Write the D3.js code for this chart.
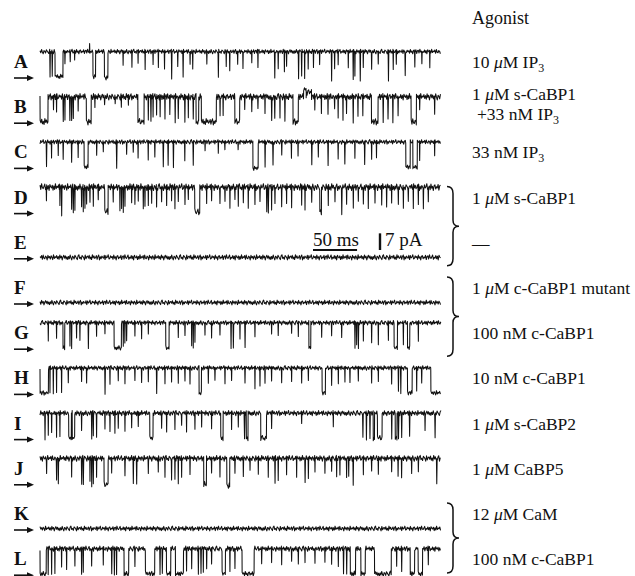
<!DOCTYPE html>
<html lang="en">
<head>
    <meta charset="UTF-8"/>
    <title>Single-channel records</title>
    <script src="https://d3js.org/d3.v7.min.js"></script>
    <style>
        body { margin: 0; background: #fff; }
        text { font-family: "Liberation Serif", "DejaVu Serif", serif; fill: #111; }
    </style>
</head>
<body>
<script>
    var w = 635;
    var h = 576;

    // record letters and the agonist on each one
    var rows = ["A", "B", "C", "D", "E", "F", "G", "H", "I", "J", "K", "L"];
    var agonists = [
        ["10 μM IP_3"],
        ["1 μM s-CaBP1", "+33 nM IP_3"],
        ["33 nM IP_3"],
        ["1 μM s-CaBP1"],
        ["—"],
        ["1 μM c-CaBP1 mutant"],
        ["100 nM c-CaBP1"],
        ["10 nM c-CaBP1"],
        ["1 μM s-CaBP2"],
        ["1 μM CaBP5"],
        ["12 μM CaM"],
        ["100 nM c-CaBP1"]
    ];
    // rows joined by a brace
    var braces = [["D", "E"], ["F", "G"], ["K", "L"]];

    var recordMs = 455;      // length of each record
    var openPA = 10.5;       // open channel current
    // level the record rests at (pA): open for active channels, 0 = closed
    var baseLevel = [10.5, 10.5, 10.5, 10.5, 0, 0, 10.5, 10.5, 10.5, 10.5, 0, 10.5];
    // baseline noise of each record (pA)
    var noiseAmp = [1.05, 1.5, 1.05, 1.6, 1.2, 1.1, 1.05, 1.05, 1.2, 1.35, 1.1, 1.2];

    // closing events: [start ms, duration ms, level pA]
    var eventsA = [[11,.8],[13.5,.8],[17,9],[28,.6,5],[34,.6,6],[39,.6,7],[56,.6,13.5],[60,3],[73,4,-.5],[94,.6,5],[104,.6,4],[111,.6,6],[119,.6,3],[128,.6,5],[134,.6,4],[141,.6,3],[149,.8,-1],[156,.6,4],[162,.8,0],[170,.6,5],[173,.6,3],[189,.6,5],[202,.8,-.5],[211,.6,4],[215,.6,2],[224,.6,5],[230,.6,3],[240,.6,6],[247,.6,4],[266,.8,-1],[270,.6,3],[277,.6,2],[279.5,.6,4],[293,.8,-1],[296.5,.8],[300,.6,-1],[304,.6,3],[310,.6,4],[317,.6,5],[330.5,.8,-1.5],[334,.6,3],[338,.6,5],[349.5,.6,4],[355,.8,-1],[357,.6],[363,.8,-1.5],[366.5,.6,4],[376,.6,3],[383.5,.6,5],[395,.8,-2],[400.5,.6,3],[404,.6,5],[414,.8],[425,.6,4],[433,.6,5],[442,.6,4]];
    var eventsB = [[0,9,0],[15,.6,5],[18.5,.6,4],[26,.8,0],[28,.6,1],[33.5,.8,0],[35.5,.8,0],[37.5,.6,1],[43,.6,5],[52.5,5.5,0],[62,.6,6],[73,.6,7],[85,.6,7],[92,.6,6],[100,.6,7],[111,7,0],[122.5,.8,1],[125.5,.8,0],[128,.6,2],[132,.6,3],[136,.6,2],[141.5,.6,1],[147,.6,3],[153,.8,0],[156.5,.8,1],[164,.8,0],[168,.6,2],[173.5,.8,1],[177,3,0],[183,17,0],[204,.6,2],[207.5,.6,3],[221,5.5,0],[232,.6,5],[240,.6,4],[247,.6,5],[255,.6,4],[262.5,.8,0],[266,.8,1],[272,.6,2],[277.5,.8,0],[287,6,0],[299,3,13.5],[302,6,12.5],[311.5,.6,5],[319,.6,4],[326.5,.6,3],[334,.6,5],[338,.6,2],[343.5,.6,1],[347.5,.6,3],[355,.8,0],[360.5,.6,2],[366,.6,3],[376,7.5,0],[389,.8,0],[394.5,.8,1],[400,.8,0],[406,.6,2],[421,6,0],[430.5,.6,5],[447.5,.6,3]];
    var eventsC = [[7,.8,0],[12.8,.6,4],[20.4,.6,5],[26,.6,3],[35.5,.8,2],[43,.6,4],[50,4.5,0],[64,.6,5],[71.5,.6,6],[86.5,1,-.5],[98,.6,5],[105.5,.6,6],[111,.6,4],[122.5,.6,3],[130,.6,4],[139.5,.8,0],[145,.8,1],[151,.8,0],[164,.6,3],[173.5,.8,1],[187,.6,7],[202,.6,6],[209.5,.6,7],[224.5,.6,7],[241.5,6,-.5],[255,.8,0],[264,.8,.5],[274,.6,5],[285,.6,4],[292.5,.6,5],[308,.8,1],[315.5,.6,4],[326.5,.8,1],[338,.6,3],[345.5,.8,1],[357,.6,4],[368,.8,1],[376,.6,3],[381.5,.6,4],[415,5,0],[423,5,0],[430.5,.6,3],[447.5,.6,5]];
    var eventsD = [[7,.6,5],[22.3,.6,3],[24.2,.8,-1],[35.6,.6,1],[37.4,.8,-.5],[39.3,.6,1],[46.9,.6,2],[48.8,.6,0],[50.7,.6,1],[52.6,.6,3],[56.4,.6,4],[60.2,.6,3],[65.8,.6,5],[73.4,3.8,0],[82.8,.6,4],[90.4,.6,0],[92.3,.6,1],[94.2,.6,-.5],[96.1,.6,2],[103.7,.6,4],[107.4,.6,3],[111.2,.6,5],[116.9,.6,1],[118.8,.6,2],[122.6,.6,3],[126.4,.6,4],[132,.6,2],[137.7,.6,4],[143.4,.6,3],[149,.6,5],[152.8,.6,2],[156.6,.6,4],[164.2,.6,3],[168,.6,5],[175.5,5.7,0],[188.8,.6,4],[194.4,.6,5],[203.9,.6,3],[209.6,.6,4],[215.2,.6,2],[220.9,.6,5],[224.7,.6,3],[230.4,.6,4],[236,.6,2],[243.6,.6,3],[249.3,.6,4],[256.9,.8,0],[258.7,.8,-.5],[262.5,.6,1],[266.3,.6,3],[273.9,.6,2],[279.5,.6,4],[285.2,.6,2],[296.6,.6,3],[300.4,.6,1],[308,.6,4],[317.4,1.9,-.5],[326.8,.6,3],[334.4,.6,4],[342,.8,-1.5],[347.6,.6,3],[355.2,.6,2],[360.9,.6,4],[366.6,.6,3],[372.2,.6,2],[379.8,.6,4],[387.4,.6,3],[393,.6,2],[398.7,.6,4],[406.3,.6,3],[412,.6,1],[417.6,.6,4],[423.3,.6,2],[429,.6,3],[434.7,.6,1],[440.3,.6,4]];
    var eventsE = [];
    var eventsF = [];
    var eventsG = [[9.1,.6,3],[18.5,.6,4],[26,2,0],[33.7,.6,1],[35.6,.6,0],[41.2,.6,4],[45,.6,3],[54.5,.8,-.5],[63.9,.6,5],[73.4,.6,6],[84,8.3,0],[94.2,.6,1],[96,.6,2],[98,.6,3],[107.4,.6,5],[115,.6,4],[122.6,.6,6],[142.6,3.8,0],[156.6,.6,4],[164.2,.6,5],[171.8,.6,1],[173.6,.6,0],[175.5,.6,2],[186.9,.6,5],[194.4,.6,4],[203.9,.6,5],[216.4,.8,0],[219,.8,-.5],[226.6,.6,4],[232.3,.8,0],[243.6,.6,5],[262.5,.6,6],[270,.6,5],[285.2,.6,6],[292.8,.6,5],[305,2.2,0],[319.3,.6,4],[330.6,.6,5],[342,.6,4],[357,.8,0],[359,.6,1],[360.9,.8,-.5],[366.6,.6,3],[376,.6,2],[383.6,.6,1],[395,.6,3],[401.7,3.8,0],[412,.6,1],[416.9,2.6,0],[429,.6,3]];
    var eventsH = [[0,9.5,0],[11,.6,0],[14.8,.6,-.5],[18.5,.6,0],[24.2,.6,0],[31.8,.6,4],[46.9,.6,5],[52.6,.6,4],[73.4,.8,-.5],[79.1,.6,4],[88.5,.6,5],[96.1,.6,4],[107.4,.6,5],[115,.6,4],[122.6,.6,5],[132,.8,-.5],[141.5,.6,4],[149,.6,5],[156.6,.6,4],[164.2,.6,5],[169.9,.6,4],[180.4,2.7,0],[190.7,.6,4],[198.2,.6,5],[209.6,.6,4],[217.1,.6,5],[232.3,.6,4],[243.6,.6,2],[249.3,.6,3],[255,.6,4],[262.5,.6,5],[273.9,.6,4],[285.2,.6,5],[296.6,.6,4],[304.2,.6,5],[320,3.8,0],[330.6,.6,3],[338.2,.6,4],[345.7,.6,5],[351.4,.6,4],[360.9,.6,5],[376,.6,4],[383.6,.6,5],[398.7,.6,4],[406.3,.8,1],[409,.8,0],[416.9,5.3,0],[427.1,.6,1],[432.8,.6,4],[443.4,12,0]];
    var eventsI = [[5.3,.8,-.5],[9.1,.6,1],[12.9,.6,2],[18.5,.6,0],[22.3,.6,1],[32.5,3,0],[36.5,2.8,0],[46.9,.6,3],[58.3,.8,0],[60.2,.6,1],[63.9,.6,0],[73.4,.6,4],[79.1,.6,3],[84.7,.6,2],[88.5,.6,4],[96.1,.6,3],[103.7,.6,4],[111.2,.6,5],[124.5,3.7,0],[137.7,.6,4],[143.4,.6,3],[152.8,.6,4],[160.4,.6,5],[166,.6,3],[175.5,.6,4],[183.1,.6,5],[194.4,.6,4],[205,2.7,0],[217.1,.6,4],[224.7,.6,5],[231.5,1.2,0],[234,2,0],[250.4,6.5,0],[262.5,.6,4],[296.6,.6,6],[332.5,.6,5],[366,.8,0],[370,.8,-.5],[374,.8,0],[378,1.5,0],[382.8,5.3,0],[398.7,.8,0],[403,2,0],[406.3,1,0],[410,.8,0],[419,.8,1],[436.6,.6,3],[447.9,.8,0]];
    var eventsJ = [[7.2,.6,4],[18.5,.6,1],[20.4,.8,-.5],[35.6,.6,3],[46.9,.8,0],[48.8,.8,-.5],[56.4,.6,1],[58.3,.8,-1],[60.2,.6,0],[63.9,.6,3],[72.6,4.6,-.5],[81,.6,4],[96.1,.6,3],[105.5,.8,0],[109.3,.8,-.5],[122.6,.6,4],[133.9,.6,5],[141.5,.6,3],[149,.6,1],[152.8,.6,2],[156.6,.6,0],[160.4,.6,3],[169.9,.6,4],[185.7,3.1,-.5],[194.4,.6,4],[203.9,.6,3],[211.9,3.3,-1],[220.9,.6,4],[230.4,.6,3],[238,.6,5],[247.4,.6,4],[258.7,.6,3],[266.3,.8,0],[270,.6,1],[279.5,.6,4],[290.9,.6,3],[300.4,.8,0],[304.2,.6,2],[311.7,.6,5],[323,.6,4],[330.6,.6,5],[336.3,.6,3],[340,.6,4],[347.6,.6,2],[350,.6,3],[355,.8,-.5],[366.6,.6,4],[376,.6,5],[383.6,.6,4],[398.7,.6,5],[406,.6,3],[410,.6,2],[421.4,.6,4],[429,.6,5],[449.8,.8,-.5]];
    var eventsK = [];
    var eventsL = [[0,7,0],[9,.6,0],[12.9,.6,-.5],[16.6,.6,0],[24.2,.6,3],[29.9,.6,2],[39.3,.6,3],[46.9,.6,0],[48.8,.6,1],[58.3,.6,3],[71.5,.6,4],[81,.8,0],[84,.8,-.5],[86.6,.6,0],[95.3,5.3,0],[107.4,.6,3],[119.5,10.6,0],[135.8,.8,0],[138.4,.8,0],[143.4,4.9,0],[153.6,9.1,0],[166,.6,1],[171.8,.6,2],[179.3,.8,0],[182.3,.8,0],[185,.6,1],[188.8,.6,2],[194.4,.6,4],[206.5,3.8,0],[215.2,.6,1],[220.9,.6,2],[229.2,13.7,0],[251.2,.6,4],[262.5,.6,5],[273.9,.6,4],[285.2,.6,5],[292.8,.6,4],[300.4,.6,5],[311.7,.6,4],[323,.6,5],[330.6,.6,4],[338.2,.6,3],[344,.8,0],[347.6,.8,0],[352,6,0],[364,5,0],[379.5,19,0],[404.4,.6,3],[410,.8,1],[420,5,0],[429,5,0],[440.3,.6,4]];
    var events = [eventsA, eventsB, eventsC, eventsD, eventsE, eventsF, eventsG, eventsH, eventsI, eventsJ, eventsK, eventsL];

    // hand-typed baseline noise texture (units of the noise amplitude)
    var noisePattern = [0.3,-0.5,0.8,-0.2,-0.9,0.4,0.1,-0.6,0.7,0.2,-0.3,-0.8,0.5,0.9,-0.4,0.0,-0.7,0.6,0.3,-0.1,-0.9,0.8,-0.5,0.2,0.4,-0.3,0.7,-0.6,0.1,-0.8,0.9,-0.2,0.5,-0.4,-0.1,0.6,-0.7,0.3,0.8,-0.9,0.2,-0.5,0.4,0.0,-0.3,0.7,-0.8,0.6,-0.2,0.1,0.9,-0.6,-0.4,0.5,-0.1,0.3,-0.7,0.8,-0.3,0.2,-0.9,0.4,0.6,-0.5,0.1,-0.2,0.7,-0.8,0.3,0.5,-0.6,0.9,-0.1,-0.4,0.2,0.8,-0.7,0.0,-0.3,0.6,-0.5,0.4,-0.9,0.7,0.1,-0.2,0.5,-0.8,0.3,-0.6,0.9,-0.4,0.2,-0.1,0.6,-0.7,0.8,-0.3,-0.5,0.4,0.1,-0.9,0.7,-0.2,0.3,-0.6,0.5,0.0,-0.8,0.9,-0.4,0.2,-0.1,0.6,-0.5,0.3,-0.7,0.8,-0.2,0.4,-0.9,0.1,0.7,-0.3,0.5,-0.6,0.2,-0.8];

    // layout
    var x0 = 40, x1 = 441;
    var firstArrow = 78, rowGap = 45.2;
    var pxPerPA = 2.38;
    var labelX = 472;

    var svg = d3.select("body")
                .append("svg")
                .attr("width", w)
                .attr("height", h);

    var xScale = d3.scaleLinear()
        .domain([0, recordMs])
        .range([x0, x1]);

    function arrowY(i) { return firstArrow + rowGap * i; }
    function yScaleFor(i) {
        var zero = arrowY(i) - 1.5;
        return d3.scaleLinear().domain([0, openPA]).range([zero, zero - openPA * pxPerPA]);
    }

    // builds the sampled record from its events
    function recordPoints(i) {
        var base = baseLevel[i], amp = noiseAmp[i];
        var k = i * 23;
        var nz = function () { return noisePattern[(k++) % noisePattern.length] * amp; };
        var step = 0.9;
        var pts = [];
        var t = 0;
        var evs = events[i].slice().sort(function (a, b) { return a[0] - b[0]; });
        evs.forEach(function (e) {
            var s = e[0], d = e[1], lv = e.length > 2 ? e[2] : 0;
            for (; t < s; t += step) pts.push([t, base + nz()]);
            if (d < 1.5) {
                pts.push([s, base + nz()]);
                pts.push([s + d / 2, lv + nz() * 0.4]);
                pts.push([s + d, base + nz()]);
            } else {
                pts.push([s, base + nz()]);
                for (var u = s + 0.15; u < s + d; u += step) pts.push([u, lv + nz()]);
                pts.push([s + d, lv + nz()]);
                pts.push([s + d + 0.15, base + nz()]);
            }
            t = Math.max(t, s + d + step);
        });
        for (; t <= recordMs; t += step) pts.push([t, base + nz()]);
        return pts.filter(function (p) { return p[0] <= recordMs; });
    }

    // === RECORDS ===
    rows.forEach(function (r, i) {
        var y = yScaleFor(i);
        var line = d3.line()
            .x(function (p) { return xScale(p[0]); })
            .y(function (p) { return y(p[1]); });
        svg.append("path")
            .attr("d", line(recordPoints(i)))
            .attr("fill", "none")
            .attr("stroke", "#111")
            .attr("stroke-width", 1.05)
            .attr("stroke-linejoin", "round");

        // letter + closed-level arrow
        svg.append("text")
            .attr("x", 14)
            .attr("y", arrowY(i) - 10)
            .attr("font-size", "19px")
            .attr("font-weight", "bold")
            .text(r);
        svg.append("line")
            .attr("x1", 14).attr("x2", 28)
            .attr("y1", arrowY(i)).attr("y2", arrowY(i))
            .attr("stroke", "#111").attr("stroke-width", 1.6);
        svg.append("path")
            .attr("d", "M27," + (arrowY(i) - 3) + "L34," + arrowY(i) + "L27," + (arrowY(i) + 3) + "Z")
            .attr("fill", "#111");

        // agonist label
        agonists[i].forEach(function (txt, j) {
            var by = agonists[i].length > 1 ? arrowY(i) - 23 + j * 20 : arrowY(i) - 10;
            var t = svg.append("text")
                .attr("x", labelX + (j > 0 ? 5 : 0))
                .attr("y", by)
                .attr("font-size", "17.5px");
            txt.split(/(μ|_3)/).forEach(function (part) {
                if (part === "") return;
                if (part === "μ") t.append("tspan").attr("font-style", "italic").text("μ");
                else if (part === "_3") t.append("tspan").attr("font-size", "12px").attr("dy", 4).text("3");
                else t.append("tspan").text(part);
            });
        });
    });

    svg.append("text")
        .attr("x", labelX)
        .attr("y", 24)
        .attr("font-size", "18px")
        .text("Agonist");

    // === BRACES ===
    braces.forEach(function (pair) {
        var top = arrowY(rows.indexOf(pair[0])) - 27;
        var bot = Math.min(arrowY(rows.indexOf(pair[1])) + 7, h - 3);
        var mid = (top + bot) / 2;
        var bx = 447;
        var d = "M" + bx + "," + top +
            "Q" + (bx + 6) + "," + top + " " + (bx + 6) + "," + (top + 7) +
            "L" + (bx + 6) + "," + (mid - 6) +
            "Q" + (bx + 6) + "," + mid + " " + (bx + 12) + "," + mid +
            "Q" + (bx + 6) + "," + mid + " " + (bx + 6) + "," + (mid + 6) +
            "L" + (bx + 6) + "," + (bot - 7) +
            "Q" + (bx + 6) + "," + bot + " " + bx + "," + bot;
        svg.append("path")
            .attr("d", d)
            .attr("fill", "none")
            .attr("stroke", "#111")
            .attr("stroke-width", 1.5);
    });

    // === SCALE BARS ===
    var barX = 313, barY = 250;
    var barMs = 50, barPA = 7;
    var yE = yScaleFor(4);
    svg.append("line")
        .attr("x1", barX).attr("x2", barX + xScale(barMs) - xScale(0))
        .attr("y1", barY).attr("y2", barY)
        .attr("stroke", "#111").attr("stroke-width", 2);
    svg.append("text")
        .attr("x", barX).attr("y", barY - 4)
        .attr("font-size", "19px")
        .text(barMs + " ms");
    var vbX = 380;
    svg.append("line")
        .attr("x1", vbX).attr("x2", vbX)
        .attr("y1", barY).attr("y2", barY - (yE(0) - yE(barPA)))
        .attr("stroke", "#111").attr("stroke-width", 2.4);
    svg.append("text")
        .attr("x", vbX + 5).attr("y", barY - 4)
        .attr("font-size", "19px")
        .text(barPA + " pA");
</script>
</body>
</html>
